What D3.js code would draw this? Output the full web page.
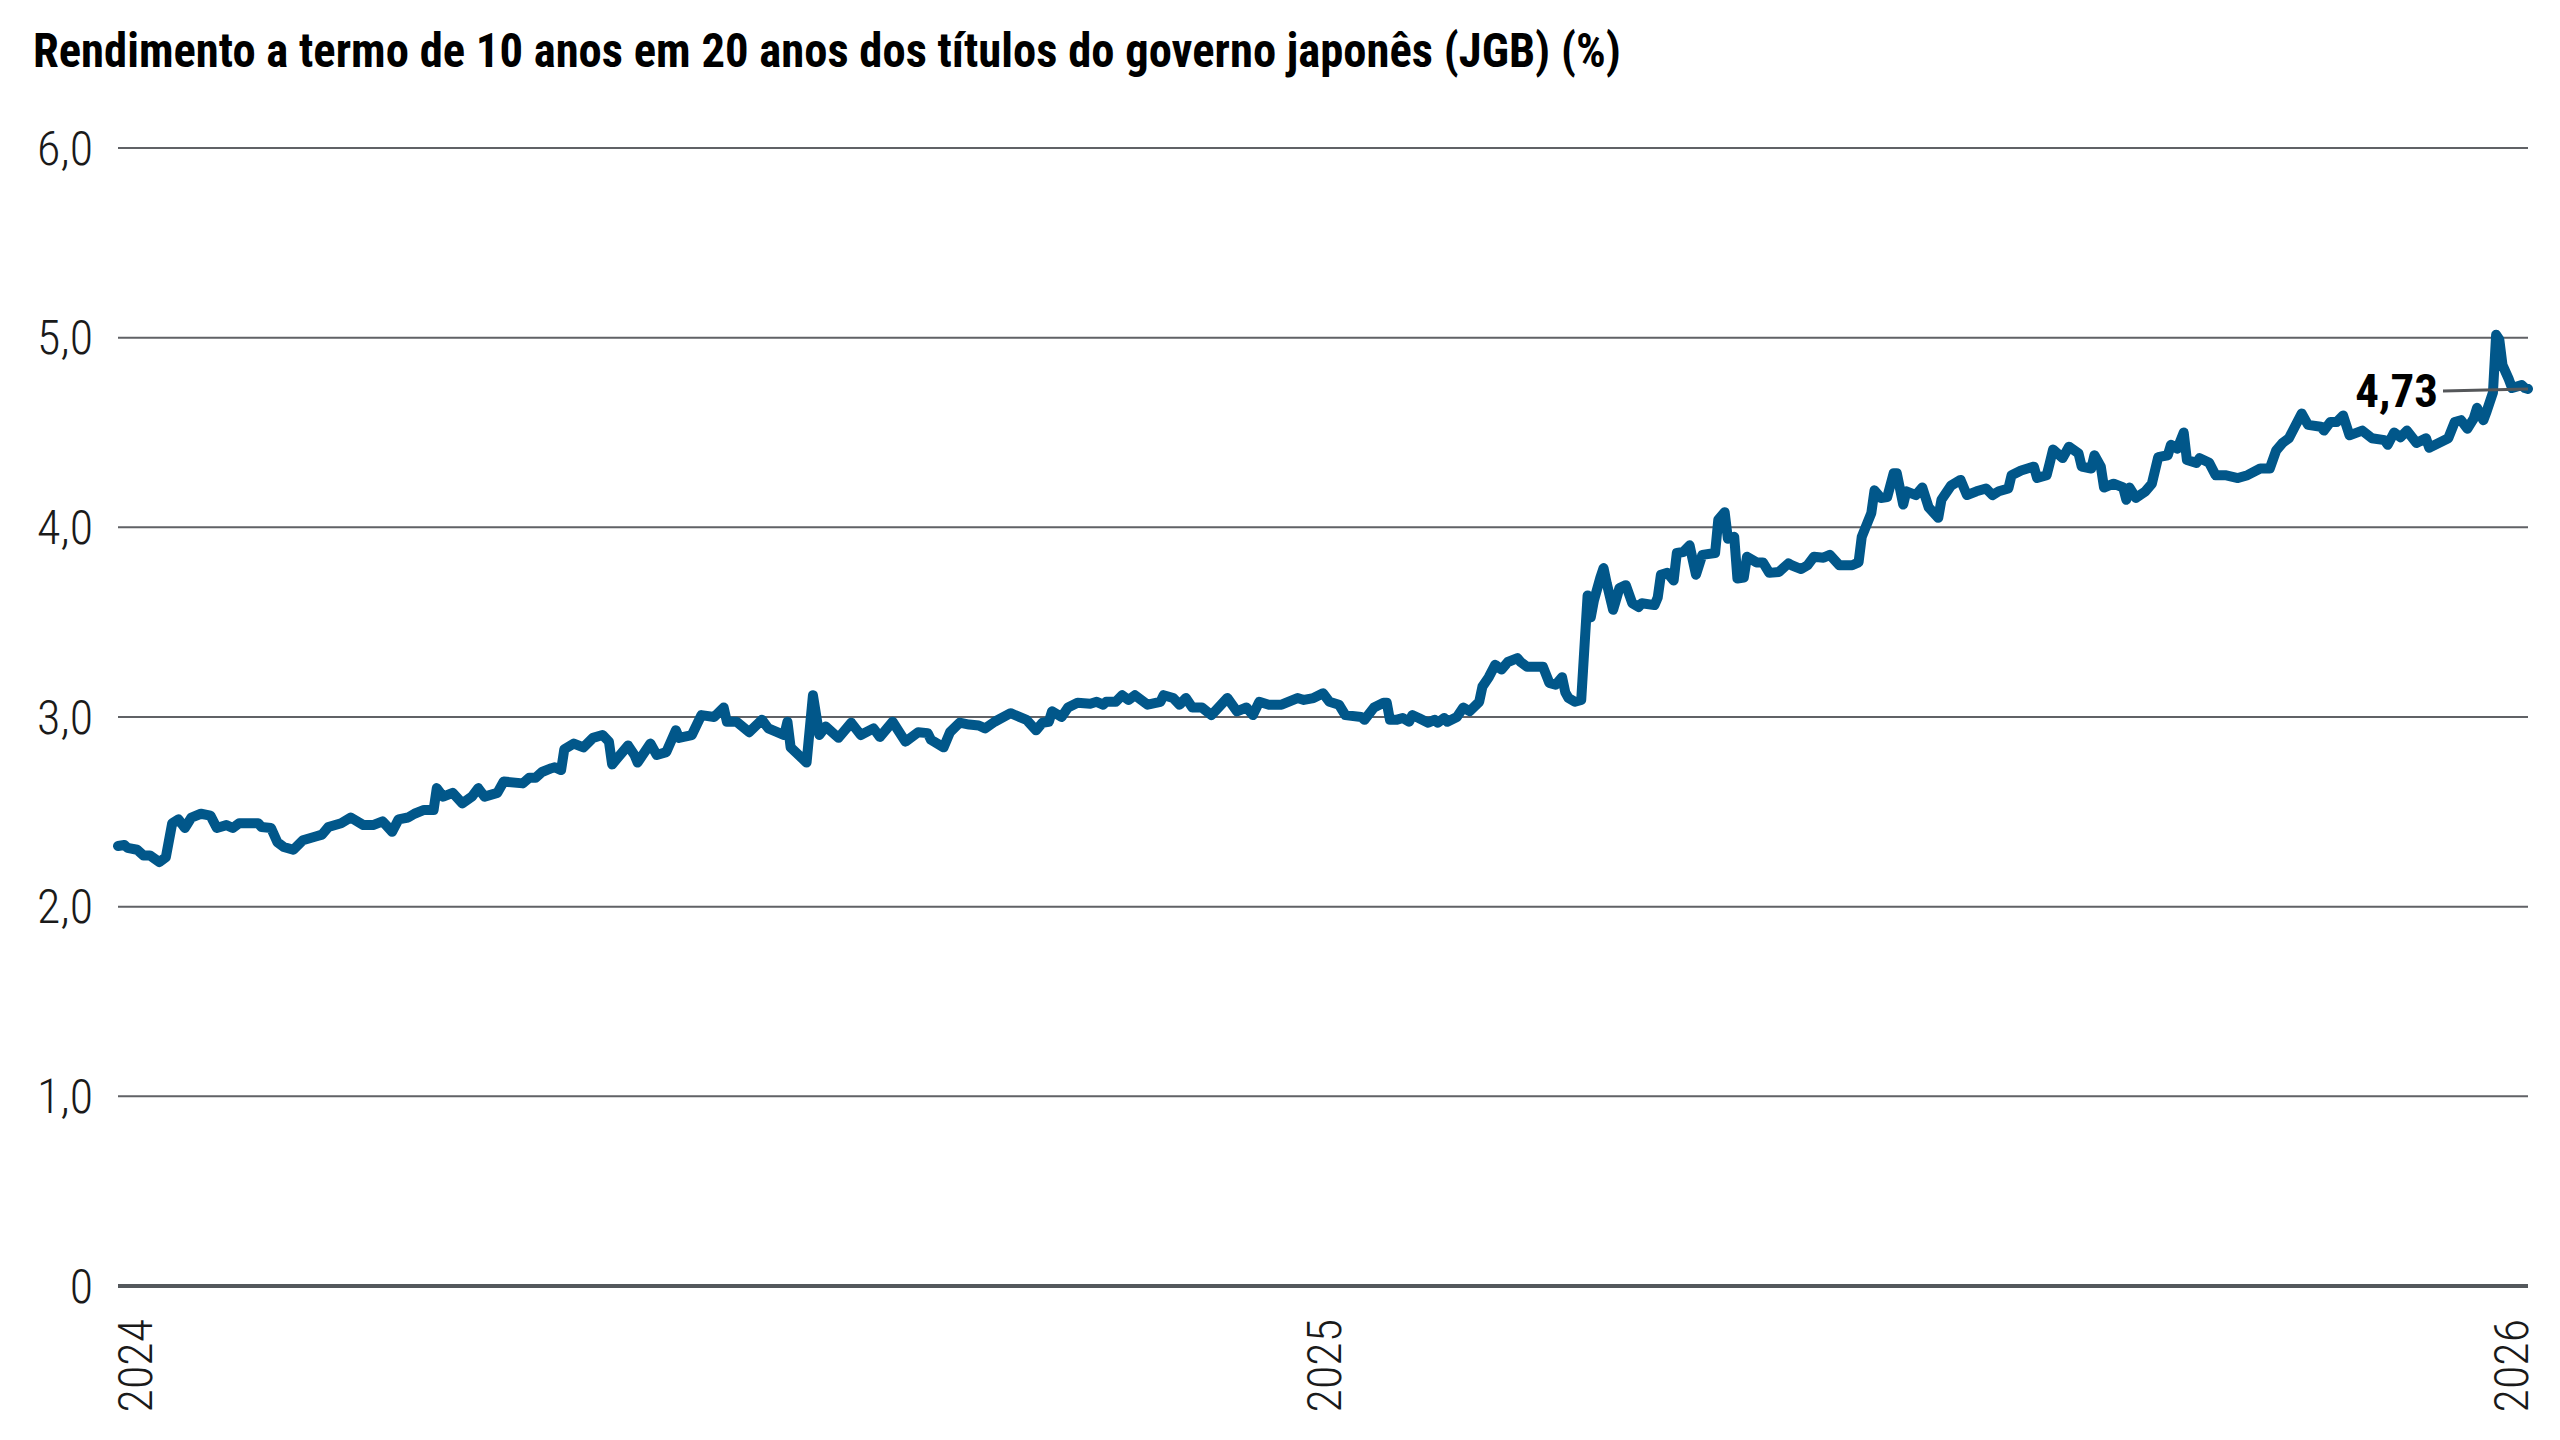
<!DOCTYPE html>
<html>
<head>
<meta charset="utf-8">
<script src="https://cdn.jsdelivr.net/npm/d3@7"></script>
<style>
  html, body { margin: 0; padding: 0; background: #fff; }
  svg { display: block; }
</style>
</head>
<body>
<div id="chart"></div>
<script>
// ---- data ----
const title = "Rendimento a termo de 10 anos em 20 anos dos títulos do governo japonês (JGB) (%)";

const dates = [
  "2024-01-02","2024-01-04","2024-01-05","2024-01-08","2024-01-10","2024-01-12","2024-01-15","2024-01-17","2024-01-19","2024-01-21","2024-01-23","2024-01-25","2024-01-28","2024-01-31",
  "2024-02-02","2024-02-05","2024-02-07","2024-02-09","2024-02-15","2024-02-16","2024-02-19","2024-02-21","2024-02-23","2024-02-26","2024-02-29",
  "2024-03-04","2024-03-06","2024-03-08","2024-03-12","2024-03-15","2024-03-19","2024-03-22","2024-03-25","2024-03-28","2024-03-30",
  "2024-04-02","2024-04-04","2024-04-07","2024-04-10","2024-04-11","2024-04-13","2024-04-16","2024-04-19","2024-04-22","2024-04-24","2024-04-26","2024-04-30",
  "2024-05-02","2024-05-08","2024-05-10","2024-05-12","2024-05-14","2024-05-17","2024-05-18","2024-05-20","2024-05-21","2024-05-24","2024-05-27","2024-05-30",
  "2024-06-02","2024-06-04","2024-06-05","2024-06-10","2024-06-12","2024-06-13","2024-06-17","2024-06-19","2024-06-22","2024-06-25","2024-06-26","2024-06-30",
  "2024-07-03","2024-07-07","2024-07-10","2024-07-11","2024-07-14","2024-07-18","2024-07-22","2024-07-24","2024-07-29","2024-07-30","2024-07-31",
  "2024-08-05","2024-08-07","2024-08-09","2024-08-11","2024-08-15","2024-08-19","2024-08-22","2024-08-26","2024-08-28",
  "2024-09-01","2024-09-05","2024-09-09","2024-09-12","2024-09-13","2024-09-17","2024-09-19","2024-09-22","2024-09-25","2024-09-28","2024-09-30",
  "2024-10-03","2024-10-08","2024-10-13","2024-10-16","2024-10-18","2024-10-20","2024-10-21","2024-10-24","2024-10-26","2024-10-29",
  "2024-11-02","2024-11-04","2024-11-06","2024-11-07","2024-11-10","2024-11-12","2024-11-14","2024-11-16","2024-11-20","2024-11-24","2024-11-25","2024-11-28","2024-11-30",
  "2024-12-02","2024-12-04","2024-12-07","2024-12-10","2024-12-15","2024-12-18","2024-12-21","2024-12-23","2024-12-25","2024-12-28",
  "2025-01-01","2025-01-06","2025-01-08","2025-01-11","2025-01-14","2025-01-16","2025-01-19","2025-01-21","2025-01-26","2025-01-27","2025-01-30",
  "2025-02-02","2025-02-03","2025-02-04","2025-02-06","2025-02-08","2025-02-10","2025-02-11","2025-02-13","2025-02-16","2025-02-18","2025-02-19","2025-02-21","2025-02-22","2025-02-25","2025-02-27",
  "2025-03-01","2025-03-04","2025-03-05","2025-03-07","2025-03-09","2025-03-11","2025-03-13","2025-03-16","2025-03-17","2025-03-19","2025-03-24","2025-03-26","2025-03-28","2025-03-30","2025-03-31",
  "2025-04-01","2025-04-03","2025-04-05","2025-04-07","2025-04-08","2025-04-09","2025-04-11","2025-04-12","2025-04-13","2025-04-15","2025-04-17","2025-04-19","2025-04-21","2025-04-23","2025-04-24","2025-04-28","2025-04-29","2025-04-30",
  "2025-05-02","2025-05-04","2025-05-05","2025-05-07","2025-05-09","2025-05-11","2025-05-13","2025-05-17","2025-05-18","2025-05-20","2025-05-21","2025-05-23","2025-05-24","2025-05-26","2025-05-27","2025-05-30",
  "2025-06-01","2025-06-03","2025-06-06","2025-06-09","2025-06-10","2025-06-13","2025-06-15","2025-06-17","2025-06-20","2025-06-22","2025-06-25","2025-06-29",
  "2025-07-01","2025-07-02","2025-07-05","2025-07-06","2025-07-08","2025-07-10","2025-07-12","2025-07-13","2025-07-15","2025-07-16","2025-07-19","2025-07-21","2025-07-23","2025-07-26","2025-07-27","2025-07-30",
  "2025-08-02","2025-08-04","2025-08-07","2025-08-10","2025-08-12","2025-08-14","2025-08-17","2025-08-18","2025-08-21","2025-08-23","2025-08-25","2025-08-26","2025-08-29","2025-08-30","2025-08-31",
  "2025-09-03","2025-09-05","2025-09-08","2025-09-09","2025-09-12","2025-09-13","2025-09-15","2025-09-16","2025-09-19","2025-09-22","2025-09-23","2025-09-24","2025-09-26","2025-09-29",
  "2025-10-01","2025-10-03","2025-10-06","2025-10-07","2025-10-09","2025-10-11","2025-10-12","2025-10-15","2025-10-16","2025-10-19","2025-10-21","2025-10-24","2025-10-28","2025-10-31",
  "2025-11-04","2025-11-07","2025-11-09","2025-11-11","2025-11-13","2025-11-17","2025-11-19","2025-11-23","2025-11-24","2025-11-26","2025-11-28","2025-11-30",
  "2025-12-02","2025-12-06","2025-12-09","2025-12-13","2025-12-14","2025-12-16","2025-12-18","2025-12-20","2025-12-23","2025-12-26","2025-12-27","2025-12-30",
  "2026-01-02","2026-01-04","2026-01-06","2026-01-08","2026-01-10","2026-01-11","2026-01-13","2026-01-14","2026-01-16","2026-01-17","2026-01-18","2026-01-19","2026-01-21","2026-01-22","2026-01-25","2026-01-26","2026-01-27"
];

const yields = [
  2.32,2.325,2.31,2.30,2.27,2.27,2.235,2.26,2.44,2.46,2.415,2.47,2.49,2.48,
  2.415,2.43,2.415,2.44,2.44,2.42,2.415,2.34,2.315,2.30,2.35,
  2.37,2.38,2.42,2.44,2.47,2.43,2.43,2.45,2.395,2.46,
  2.47,2.49,2.51,2.51,2.625,2.58,2.60,2.545,2.58,2.625,2.58,2.60,
  2.66,2.65,2.68,2.68,2.71,2.73,2.735,2.72,2.83,2.86,2.84,2.89,
  2.905,2.87,2.75,2.85,2.80,2.76,2.86,2.80,2.815,2.93,2.89,2.905,
  3.01,3.00,3.05,2.975,2.975,2.92,2.985,2.94,2.905,2.975,2.84,
  2.76,3.115,2.905,2.95,2.89,2.97,2.905,2.94,2.895,
  2.975,2.87,2.92,2.915,2.88,2.84,2.92,2.97,2.96,2.955,2.94,
  2.975,3.02,2.985,2.93,2.97,2.975,3.03,3.00,3.05,3.075,
  3.07,3.08,3.065,3.08,3.08,3.115,3.09,3.115,3.065,3.08,3.115,3.10,3.065,
  3.10,3.05,3.05,3.01,3.10,3.03,3.05,3.01,3.08,3.065,
  3.065,3.10,3.09,3.10,3.125,3.08,3.065,3.01,3.00,2.985,3.05,
  3.075,3.075,2.985,2.985,2.995,2.975,3.01,2.995,2.97,2.985,2.97,2.995,2.975,3.00,3.05,
  3.03,3.08,3.16,3.21,3.275,3.25,3.29,3.31,3.29,3.265,3.265,3.18,3.17,3.21,3.13,
  3.10,3.08,3.09,3.64,3.525,3.615,3.735,3.785,3.705,3.565,3.68,3.695,3.60,3.58,3.60,3.59,3.63,3.75,
  3.76,3.72,3.865,3.87,3.905,3.75,3.855,3.865,4.04,4.08,3.94,3.95,3.73,3.735,3.845,3.815,
  3.815,3.76,3.765,3.81,3.80,3.78,3.80,3.845,3.84,3.855,3.80,3.80,
  3.815,3.95,4.075,4.195,4.155,4.16,4.285,4.285,4.12,4.19,4.17,4.21,4.105,4.05,4.145,4.22,
  4.25,4.17,4.19,4.205,4.17,4.19,4.205,4.275,4.30,4.31,4.32,4.26,4.275,4.34,4.41,
  4.365,4.425,4.39,4.32,4.31,4.38,4.32,4.21,4.23,4.21,4.145,4.21,4.155,4.19,
  4.23,4.37,4.38,4.435,4.415,4.50,4.355,4.34,4.365,4.34,4.275,4.275,4.26,4.275,
  4.31,4.31,4.405,4.445,4.47,4.60,4.54,4.53,4.51,4.555,4.555,4.59,
  4.485,4.51,4.47,4.46,4.435,4.50,4.475,4.51,4.445,4.47,4.42,4.445,
  4.47,4.555,4.565,4.52,4.575,4.63,4.565,4.61,4.71,5.015,4.99,4.855,4.78,4.735,4.75,4.735,4.73
];

const yTicks = [0, 1, 2, 3, 4, 5, 6];
const yearLabels = ["2024", "2025", "2026"];
const lastValueLabel = "4,73";

// ---- layout ----
const width = 2560, height = 1440;
const margin = { top: 148, right: 32, bottom: 154, left: 118 };
const lineColor = "#01578a";
const gridColor = "#606266";
const axisColor = "#54585c";

const parseDate = d3.timeParse("%Y-%m-%d");
const data = dates.map((d, i) => ({ date: parseDate(d), value: yields[i] }));

const svg = d3.select("#chart").append("svg")
  .attr("width", width)
  .attr("height", height)
  .attr("viewBox", `0 0 ${width} ${height}`);

// Roboto Condensed may be missing; fall back to squeezed Roboto
function fontExists(name) {
  const probe = svg.append("text").attr("font-size", 100).text("2024 Rendimento");
  probe.attr("font-family", "monospace");
  const a = probe.node().getComputedTextLength();
  probe.attr("font-family", `"${name}", monospace`);
  const b = probe.node().getComputedTextLength();
  probe.remove();
  return Math.abs(a - b) > 0.5;
}
const hasCondensed = fontExists("Roboto Condensed");
const fontFamily = hasCondensed ? '"Roboto Condensed", Roboto, sans-serif' : 'Roboto, sans-serif';
const squeeze = hasCondensed ? 1 : 0.82;

const x = d3.scaleTime()
  .domain(d3.extent(data, d => d.date))
  .range([margin.left, width - margin.right]);

const y = d3.scaleLinear()
  .domain([0, 6])
  .range([height - margin.bottom, margin.top]);

const fmt = v => v === 0 ? "0" : d3.format(".1f")(v).replace(".", ",");

// title, stretched to the reference width
const titleG = svg.append("g").attr("transform", "translate(33,67)");
const titleText = titleG.append("text")
  .attr("font-family", fontFamily)
  .attr("font-weight", 700)
  .attr("font-size", 49)
  .attr("fill", "#000")
  .text(title);
const titleLen = titleText.node().getComputedTextLength();
titleText.attr("transform", `scale(${1588 / titleLen},1)`);

// gridlines
svg.append("g").selectAll("line")
  .data(yTicks.filter(t => t > 0))
  .join("line")
    .attr("x1", margin.left)
    .attr("x2", width - margin.right)
    .attr("y1", d => y(d))
    .attr("y2", d => y(d))
    .attr("stroke", gridColor)
    .attr("stroke-width", 2);

// zero axis
svg.append("line")
  .attr("x1", margin.left)
  .attr("x2", width - margin.right)
  .attr("y1", y(0))
  .attr("y2", y(0))
  .attr("stroke", axisColor)
  .attr("stroke-width", 4);

// y tick labels
svg.append("g").selectAll("g")
  .data(yTicks)
  .join("g")
    .attr("transform", d => `translate(${margin.left - 25},${y(d)}) scale(${squeeze},1)`)
  .append("text")
    .attr("text-anchor", "end")
    .attr("dy", "0.35em")
    .attr("font-family", fontFamily)
    .attr("font-weight", 300)
    .attr("font-size", 48)
    .attr("fill", "#1a1a1a")
    .text(fmt);

// year labels: first / middle / last across the axis, rotated
const yearPos = d3.scalePoint().domain(yearLabels).range(x.range());
const yearDy = ["0.71em", "0.37em", "0em"];
svg.append("g").selectAll("g")
  .data(yearLabels)
  .join("g")
    .attr("transform", d => `translate(${yearPos(d)},${y(0) + 33}) rotate(-90) scale(${squeeze},1)`)
  .append("text")
    .attr("text-anchor", "end")
    .attr("dy", (d, i) => yearDy[i])
    .attr("font-family", fontFamily)
    .attr("font-weight", 300)
    .attr("font-size", 48)
    .attr("fill", "#1a1a1a")
    .text(d => d);

// the series
const line = d3.line()
  .x(d => x(d.date))
  .y(d => y(d.value));

svg.append("path")
  .datum(data)
  .attr("fill", "none")
  .attr("stroke", lineColor)
  .attr("stroke-width", 10)
  .attr("stroke-linejoin", "round")
  .attr("stroke-linecap", "round")
  .attr("d", line);

// last value annotation
const last = data[data.length - 1];
const lx = x(last.date), ly = y(last.value);
svg.append("line")
  .attr("x1", lx - 85)
  .attr("y1", ly + 2)
  .attr("x2", lx)
  .attr("y2", ly)
  .attr("stroke", "#55575a")
  .attr("stroke-width", 3);

svg.append("g")
  .attr("transform", `translate(${lx - 90},${ly + 18}) scale(${squeeze},1)`)
  .append("text")
    .attr("text-anchor", "end")
    .attr("font-family", fontFamily)
    .attr("font-weight", 700)
    .attr("font-size", 47)
    .attr("fill", "#000")
    .text(lastValueLabel);
</script>
</body>
</html>
